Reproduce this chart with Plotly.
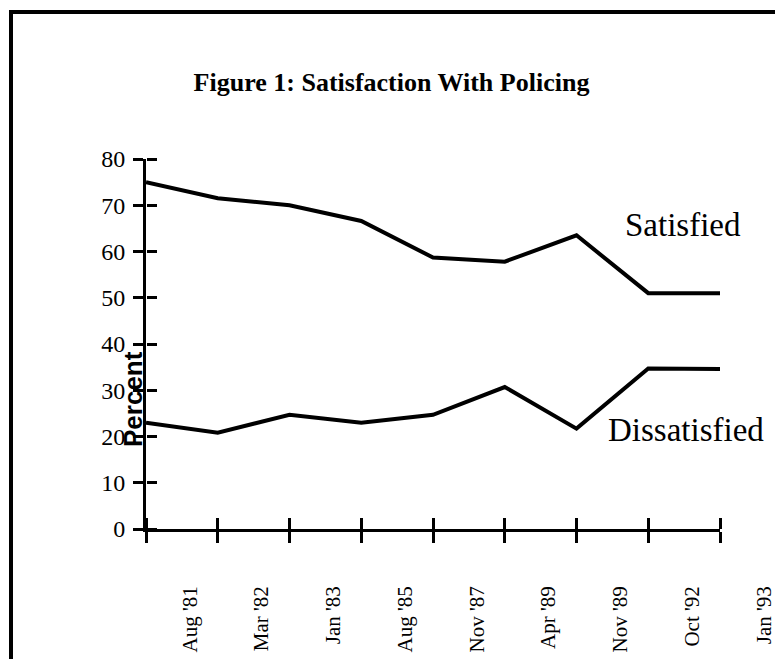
import plotly.graph_objects as go

periods = ["Aug '81", "Mar '82", "Jan '83", "Aug '85", "Nov '87", "Apr '89", "Nov '89", "Oct '92", "Jan '93"]
satisfied = [75, 71.5, 70, 66.6, 58.7, 57.8, 63.5, 51, 51]
dissatisfied = [23, 20.8, 24.7, 23, 24.7, 30.7, 21.7, 34.7, 34.6]
y_ticks = [0, 10, 20, 30, 40, 50, 60, 70, 80]

W, H = 775, 659
L, R, T, B = 146, 5, 159, 130
plot_w = W - L - R
plot_h = H - T - B
n = len(periods)
step_px = 71.75
main_frac = (n - 1) * step_px / plot_w
label_offset = 0.61

xs = list(range(n))
serif = "Liberation Serif"

fig = go.Figure()
fig.add_trace(go.Scatter(x=xs, y=satisfied, mode="lines", line=dict(color="black", width=4),
                         showlegend=False, hoverinfo="skip", xaxis="x", yaxis="y"))
fig.add_trace(go.Scatter(x=xs, y=dissatisfied, mode="lines", line=dict(color="black", width=4),
                         showlegend=False, hoverinfo="skip", xaxis="x2", yaxis="y2"))
# helper trace so the label axis exists
fig.add_trace(go.Scatter(x=[None], y=[None], xaxis="x3", yaxis="y", showlegend=False, hoverinfo="skip"))

x_full = (n - 1) / main_frac

fig.update_layout(
    width=W, height=H,
    margin=dict(l=L, r=R, t=T, b=B, autoexpand=False),
    paper_bgcolor="white", plot_bgcolor="rgba(0,0,0,0)",
    title=dict(text="Figure 1: Satisfaction With Policing", x=391.5 / W, xanchor="center",
               y=1 - 82 / H, yanchor="middle", automargin=False,
               font=dict(family=serif, size=26, color="black", weight="bold")),
    xaxis=dict(domain=[0, main_frac], range=[0, n - 1], anchor="y", automargin=False,
               showline=True, linecolor="black", linewidth=3, showgrid=False, zeroline=False,
               tickmode="array", tickvals=xs, ticks="outside", ticklen=11, tickwidth=3,
               tickcolor="black", showticklabels=False),
    xaxis2=dict(overlaying="x", range=[0, n - 1], anchor="free", position=0, side="top",
                automargin=False,
                showline=False, showgrid=False, zeroline=False, tickmode="array", tickvals=xs,
                ticks="outside", ticklen=11, tickwidth=3, tickcolor="black",
                showticklabels=False),
    xaxis3=dict(domain=[0, 1], range=[0, x_full], anchor="y", showline=False, showgrid=False,
                automargin=False,
                zeroline=False, tickmode="array", tickvals=[i + label_offset for i in xs],
                ticktext=periods, ticks="", tickangle=-90, ticklabelstandoff=52,
                ticklabeloverflow="allow",
                tickfont=dict(family=serif, size=21, color="black")),
    yaxis=dict(range=[0, 80], anchor="x", showline=True, linecolor="black", linewidth=3,
               automargin=False,
               showgrid=False, zeroline=False, tickmode="array", tickvals=y_ticks,
               ticks="outside", ticklen=10, tickwidth=3, tickcolor="black",
               ticklabelstandoff=3, tickfont=dict(family=serif, size=24, color="black")),
    yaxis2=dict(overlaying="y", range=[0, 80], anchor="free", position=0, side="right",
                automargin=False, autoshift=False,
                showline=False, showgrid=False, zeroline=False, tickmode="array",
                tickvals=y_ticks, ticks="outside", ticklen=10, tickwidth=3, tickcolor="black",
                showticklabels=False),
    annotations=[
        dict(text="Satisfied", x=7.48, y=65.7, xref="x", yref="y", showarrow=False,
             xanchor="center", yanchor="middle", font=dict(family=serif, size=33, color="black")),
        dict(text="Dissatisfied", x=7.53, y=21.3, xref="x", yref="y", showarrow=False,
             xanchor="center", yanchor="middle", font=dict(family=serif, size=33, color="black")),
        dict(text="Percent", x=-13 / plot_w, y=(H - B - 399) / plot_h, xref="paper", yref="paper",
             showarrow=False, textangle=-90, xanchor="center", yanchor="middle",
             font=dict(family="Liberation Sans", size=26, color="black", weight="bold")),
    ],
    shapes=[
        dict(type="rect", xref="paper", yref="paper",
             x0=(11 - L) / plot_w, x1=(800 - L) / plot_w,
             y0=(H - B - 700) / plot_h, y1=(H - B - 12) / plot_h,
             line=dict(color="black", width=4), fillcolor="rgba(0,0,0,0)", layer="below"),
    ],
)

fig.write_html("out.html", config={"displayModeBar": False},
               post_script="document.body.style.margin='0';document.body.style.overflow='hidden';")
